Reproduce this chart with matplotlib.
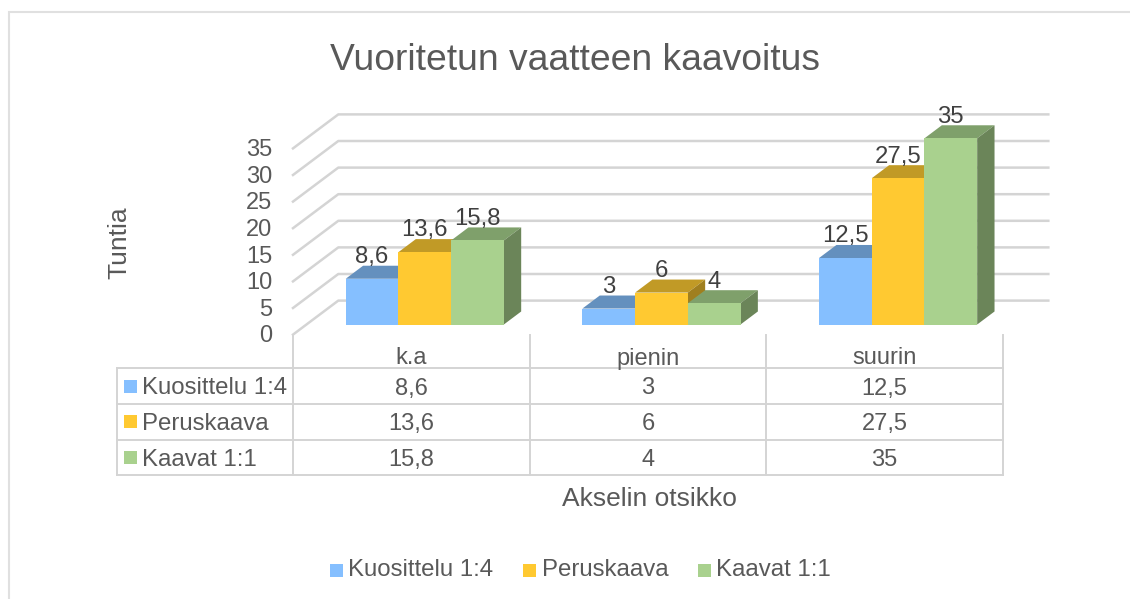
from matplotlib import pyplot as plt
from matplotlib.patches import Rectangle

plt.rcParams['font.family'] = ['Liberation Sans', 'DejaVu Sans']

title = 'Vuoritetun vaatteen kaavoitus'
categories = ['k.a', 'pienin', 'suurin']
series_names = ['Kuosittelu 1:4', 'Peruskaava', 'Kaavat 1:1']
kuosittelu = [8.6, 3, 12.5]
peruskaava = [13.6, 6, 27.5]
kaavat = [15.8, 4, 35]
y_ticks = [0, 5, 10, 15, 20, 25, 30, 35]

series = [kuosittelu, peruskaava, kaavat]
front_colors = ['#85BFFF', '#FFC931', '#A9D18E']
top_colors = ['#6490BE', '#C19A26', '#7FA06B']
side_colors = ['#56789E', '#A07F1F', '#6B8559']
grid_color = '#D4D4D4'
text_color = '#595959'
label_color = '#404040'

W, H = 1130, 599
# plot position in pixels: category and value scale of the front plane
X0_PX, CAT_PX = 293.0, 236.67
Y0_PX, UNIT_PX = 334.6, 5.32
# depth of the floor, as offset in data units
DEPTH_X = 45.3 / CAT_PX
DEPTH_Y = 34.0 / UNIT_PX
BAR_W = 52.7 / CAT_PX
BAR_FRONT = 0.297
BAR_BACK = 0.68


def proj(x, y, d):
    # oblique projection, d=0 is the front plane and d=1 the back wall
    return x + d * DEPTH_X, y + d * DEPTH_Y


def fmt(v):
    return str(v).replace('.', ',')


def face(ax, pts, color, z):
    ax.fill([p[0] for p in pts], [p[1] for p in pts], color=color, lw=0, zorder=z)


fig = plt.figure(figsize=(W / 100, H / 100), dpi=100)

# page axes in pixels: frame, title, table, legend
page = fig.add_axes([0, 0, 1, 1])
page.set_xlim(0, W)
page.set_ylim(H, 0)
page.axis('off')

# chart axes: x in categories, y in hours
ax = fig.add_axes([0, 0, 1, 1])
ax.set_xlim(-X0_PX / CAT_PX, (W - X0_PX) / CAT_PX)
ax.set_ylim((Y0_PX - H) / UNIT_PX, Y0_PX / UNIT_PX)
ax.axis('off')
ax.patch.set_alpha(0)

# Frame
page.plot([8.5, 8.5, W], [H, 11.5, 11.5], color='#E0E0E0', lw=1.5, solid_joinstyle='miter')

page.text(575, 60, title, fontsize=26.8, color=text_color, ha='center', va='center')

# Walls
for t in y_ticks:
    a = proj(0, t, 0)
    b = proj(0, t, 1)
    c = proj(len(categories), t, 1)
    ax.plot([a[0], b[0], c[0]], [a[1], b[1], c[1]], color=grid_color, lw=1.8, zorder=1)
    ax.text(-21 / CAT_PX, t + 0.15, str(t), fontsize=17, color=text_color, ha='right', va='center_baseline')

# Bars
for i in range(len(categories)):
    left = i + 0.5 - BAR_W * len(series) / 2
    for j, values in enumerate(series):
        x0 = left + j * BAR_W
        x1 = x0 + BAR_W
        v = values[i]
        f0 = proj(x0, 0, BAR_FRONT)
        f1 = proj(x1, 0, BAR_FRONT)
        t0 = proj(x0, v, BAR_FRONT)
        t1 = proj(x1, v, BAR_FRONT)
        b0 = proj(x0, v, BAR_BACK)
        b1 = proj(x1, v, BAR_BACK)
        b2 = proj(x1, 0, BAR_BACK)
        z = 2 + j
        face(ax, [t0, t1, b1, b0], top_colors[j], z)
        face(ax, [f1, t1, b1, b2], side_colors[j], z)
        face(ax, [f0, f1, t1, t0], front_colors[j], z + 0.5)
        ax.text((t0[0] + t1[0]) / 2, b0[1] + 0.5, fmt(v), fontsize=17.2, color=label_color,
                ha='center', va='baseline', zorder=10)

# Data table
row_y = [368, 404, 439.5, 475]
cat_x = [X0_PX + k * CAT_PX for k in range(len(categories) + 1)]
for y in row_y:
    page.plot([117, cat_x[-1]], [y, y], color=grid_color, lw=1.4, solid_capstyle='projecting')
page.plot([117, 117], [row_y[0], row_y[-1]], color=grid_color, lw=1.4)
for x in cat_x:
    page.plot([x, x], [Y0_PX, row_y[-1]], color=grid_color, lw=1.4)

for k, name in enumerate(categories):
    page.text(cat_x[k] + CAT_PX / 2, 356, name, fontsize=17, color=text_color, ha='center', va='center_baseline')

for j, name in enumerate(series_names):
    yc = (row_y[j] + row_y[j + 1]) / 2
    page.add_patch(Rectangle((124, yc - 6.5), 13, 13, color=front_colors[j], lw=0))
    page.text(142, yc, name, fontsize=17.3, color=text_color, ha='left', va='center_baseline')
    for k in range(len(categories)):
        page.text(cat_x[k] + CAT_PX / 2, yc, fmt(series[j][k]), fontsize=17, color=text_color,
                  ha='center', va='center_baseline')

# Axis titles
page.text(649, 497, 'Akselin otsikko', fontsize=19, color=text_color, ha='center', va='center_baseline')
page.text(119.5, 243, 'Tuntia', fontsize=19, color=text_color, ha='center', va='center', rotation=90)

# Legend
legend_x = [329.5, 523, 697.5]
for j, name in enumerate(series_names):
    page.add_patch(Rectangle((legend_x[j], 563.5), 13, 13, color=front_colors[j], lw=0))
    page.text(legend_x[j] + 19, 568, name, fontsize=17.3, color=text_color, ha='left', va='center_baseline')

plt.savefig('out.png', dpi=100)
